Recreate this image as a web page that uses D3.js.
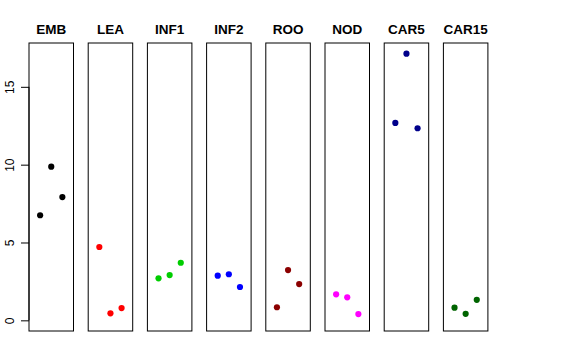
<!DOCTYPE html>
<html><head><meta charset="utf-8">
<script src="https://cdn.jsdelivr.net/npm/d3@7"></script>
<style>body{margin:0;background:#fff}svg{display:block}</style>
</head><body>
<script>
const categories = ["EMB","LEA","INF1","INF2","ROO","NOD","CAR5","CAR15"];
const colors = ["#000000","#FF0000","#00CD00","#0000FF","#8B0000","#FF00FF","#00008B","#006400"];
const values = [
  [6.75, 9.87, 7.92],
  [4.71, 0.45, 0.79],
  [2.70, 2.91, 3.70],
  [2.87, 2.96, 2.14],
  [0.84, 3.23, 2.33],
  [1.67, 1.48, 0.40],
  [12.68, 17.13, 12.34],
  [0.81, 0.42, 1.32]
];
const yTicks = [0, 5, 10, 15];

(function () {
const W = 576, H = 360;
const svg = d3.select("body").append("svg").attr("width", W).attr("height", H);

const plotTop = 43, plotBottom = 331;
const ymax = d3.max(values.flat());
const pad = ymax * 0.04;
const y = d3.scaleLinear().domain([0 - pad, ymax + pad]).range([plotBottom, plotTop]);

const pw = 44.5;
const step = 59.2;
const panelX = d3.scaleLinear().domain([0, 7]).range([29, 29 + step * 7]);

categories.forEach((c, i) => {
  const x0 = panelX(i);
  const g = svg.append("g");
  const x = d3.scaleLinear().domain([0, 4]).range([x0, x0 + pw]);
  g.append("rect").attr("x", x0).attr("y", plotTop).attr("width", pw).attr("height", plotBottom - plotTop)
    .attr("fill", "none").attr("stroke", "#000").attr("stroke-width", 1);
  g.append("text").attr("x", x0 + pw / 2).attr("y", 33.5).attr("text-anchor", "middle")
    .attr("font-family", "Liberation Sans, Arial, sans-serif").attr("font-weight", "bold")
    .attr("font-size", "13.5px").text(c);
  g.selectAll("circle").data(values[i]).join("circle")
    .attr("cx", (d, j) => x(j + 1)).attr("cy", d => y(d)).attr("r", 3.1)
    .attr("fill", colors[i]);
});

const ax = svg.append("g").attr("transform", "translate(29,0)")
  .call(d3.axisLeft(y).tickValues(yTicks).tickSize(8).tickFormat(d3.format("d")));
ax.select(".domain").attr("d", `M0,${y(0)}V${y(15)}`).attr("stroke", "#000");
ax.selectAll(".tick line").attr("stroke", "#000");
ax.selectAll(".tick text")
  .attr("font-family", "Liberation Sans, Arial, sans-serif").attr("font-size", "12px")
  .attr("fill", "#000")
  .attr("transform", "rotate(-90)")
  .attr("x", 0).attr("y", -15.5).attr("dy", "0").attr("text-anchor", "middle");
})();
</script>
</body></html>
